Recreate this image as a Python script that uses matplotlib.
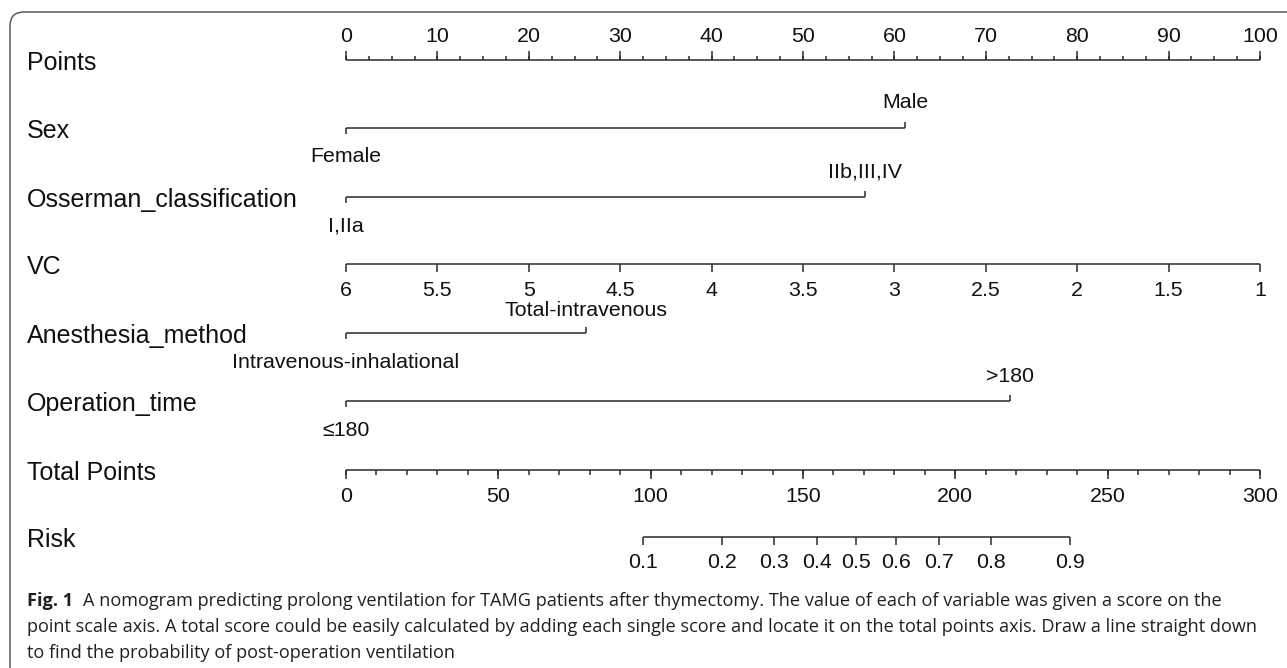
import numpy as np
import matplotlib
matplotlib.use("Agg")
import matplotlib.pyplot as plt
from matplotlib.patches import FancyBboxPatch
from matplotlib.transforms import blended_transform_factory, IdentityTransform

# ---------------- data ----------------
row_names = ["Points", "Sex", "Osserman_classification", "VC",
             "Anesthesia_method", "Operation_time", "Total Points", "Risk"]

points_ticks = [0, 10, 20, 30, 40, 50, 60, 70, 80, 90, 100]
points_minor = [i * 2.5 for i in range(41)]

sex_levels = ["Female", "Male"]
sex_points = [0, 61.2]

osserman_levels = ["I,IIa", "IIb,III,IV"]
osserman_points = [0, 56.8]

vc_labels = ["6", "5.5", "5", "4.5", "4", "3.5", "3", "2.5", "2", "1.5", "1"]
vc_points = [0, 10, 20, 30, 40, 50, 60, 70, 80, 90, 100]

anesthesia_levels = ["Intravenous-inhalational", "Total-intravenous"]
anesthesia_points = [0, 26.3]

optime_levels = ["\u2264180", ">180"]
optime_points = [0, 72.7]

total_ticks = [0, 50, 100, 150, 200, 250, 300]
total_minor = list(range(0, 301, 10))
total_max = 300

risk_labels = ["0.1", "0.2", "0.3", "0.4", "0.5", "0.6", "0.7", "0.8", "0.9"]
risk_total_points = [97.5, 123.3, 140.5, 154.6, 167.5, 180.4, 194.5, 211.7, 237.6]

caption_bold = "Fig. 1"
caption_lines = [
    "A nomogram predicting prolong ventilation for TAMG patients after thymectomy. The value of each of variable was given a score on the",
    "point scale axis. A total score could be easily calculated by adding each single score and locate it on the total points axis. Draw a line straight down",
    "to find the probability of post-operation ventilation",
]

# ---------------- layout ----------------
W, H = 1287, 668
row_y = [60, 128, 197, 264, 333, 401, 470, 537]   # pixel rows of the axes lines
LC = "#2a2a2a"
LW = 1.1
FONT = ["Liberation Sans", "DejaVu Sans"]
ROW_FS = 18.0
TICK_FS = 15.4

fig = plt.figure(figsize=(W / 100, H / 100), dpi=100)
ax = fig.add_axes([346 / W, 0, 914 / W, 1])
ax.set_xlim(0, 100)
ax.set_ylim(H, 0)
ax.axis("off")


def hline(x0, x1, y):
    ax.plot([x0, x1], [y, y], color=LC, lw=LW, solid_capstyle="butt", clip_on=False)


def ticks(xs, y, length):
    ax.vlines(xs, y, y + length, color=LC, lw=LW, clip_on=False)


def label(x, y, s, fs=TICK_FS):
    ax.text(x, y, s, ha="center", va="center", fontsize=fs, family=FONT,
            color="#111111", clip_on=False)


# row labels
lt = blended_transform_factory(fig.transFigure, ax.transData)
for name, y in zip(row_names, row_y):
    ax.text(27 / W, y + 3, name, transform=lt, ha="left", va="center",
            fontsize=ROW_FS, family=FONT, color="#111111")

# Points axis (ticks up, labels above)
y = row_y[0]
hline(points_ticks[0], points_ticks[-1], y)
ticks(points_minor, y, -4.5)
ticks(points_ticks, y, -9)
for p in points_ticks:
    label(p, y - 23, f"{p}")


# two-level categorical rows
def cat_row(levels, pts, y, up_off=25):
    hline(pts[0], pts[1], y)
    ticks([pts[0]], y, 6)
    ticks([pts[1]], y, -6)
    label(pts[0], y + 29, levels[0])
    label(pts[1], y - up_off, levels[1])


cat_row(sex_levels, sex_points, row_y[1])
cat_row(osserman_levels, osserman_points, row_y[2])

# VC axis (ticks down, labels below)
y = row_y[3]
hline(vc_points[0], vc_points[-1], y)
ticks(vc_points, y, 8)
for p, s in zip(vc_points, vc_labels):
    label(p, y + 27, s)

cat_row(anesthesia_levels, anesthesia_points, row_y[4], up_off=22)
cat_row(optime_levels, optime_points, row_y[5])

# Total points axis
y = row_y[6]
tx = lambda t: np.asarray(t, dtype=float) * 100.0 / total_max
hline(tx(0), tx(total_max), y)
ticks(tx(total_minor), y, 5)
ticks(tx(total_ticks), y, 8.5)
for t in total_ticks:
    label(tx(t), y + 27, f"{t}")

# Risk axis
y = row_y[7]
rx = tx(risk_total_points)
hline(rx[0], rx[-1], y)
ticks(rx, y, 8)
for xv, s in zip(rx, risk_labels):
    label(xv, y + 26, s)

# ---------------- caption ----------------
CAP_FONT = ["Open Sans", "DejaVu Sans"]
CAP_COLOR = "#231f20"
cap_x = 27
cap_right = 1256
cap_base = [606, 632, 658]

# size the caption so that its longest line spans the same width as in the reference
probe = fig.text(0, 0, caption_lines[1], fontsize=12, family=CAP_FONT)
fig.canvas.draw()
pw = probe.get_window_extent().width
probe.remove()
cap_fs = 12 * (cap_right - cap_x) / pw

ft = IdentityTransform()
tb = fig.text(cap_x / W, 1 - cap_base[0] / H, caption_bold, fontsize=cap_fs,
              family=CAP_FONT, weight="bold", color=CAP_COLOR, va="baseline", ha="left")
fig.canvas.draw()
bb = tb.get_window_extent()
fig.text((bb.x1 + 10) / W, 1 - cap_base[0] / H, caption_lines[0], fontsize=cap_fs,
         family=CAP_FONT, color=CAP_COLOR, va="baseline", ha="left")
for line, yb in zip(caption_lines[1:], cap_base[1:]):
    fig.text(cap_x / W, 1 - yb / H, line, fontsize=cap_fs, family=CAP_FONT,
             color=CAP_COLOR, va="baseline", ha="left")

# ---------------- frame ----------------
frame = FancyBboxPatch((10, -40), 1400, H - 12 + 40,
                       boxstyle="round,pad=0,rounding_size=14",
                       transform=ft, fill=False, edgecolor="#5a5a5a", lw=1.1)
fig.add_artist(frame)

fig.savefig("out.png", dpi=100)
